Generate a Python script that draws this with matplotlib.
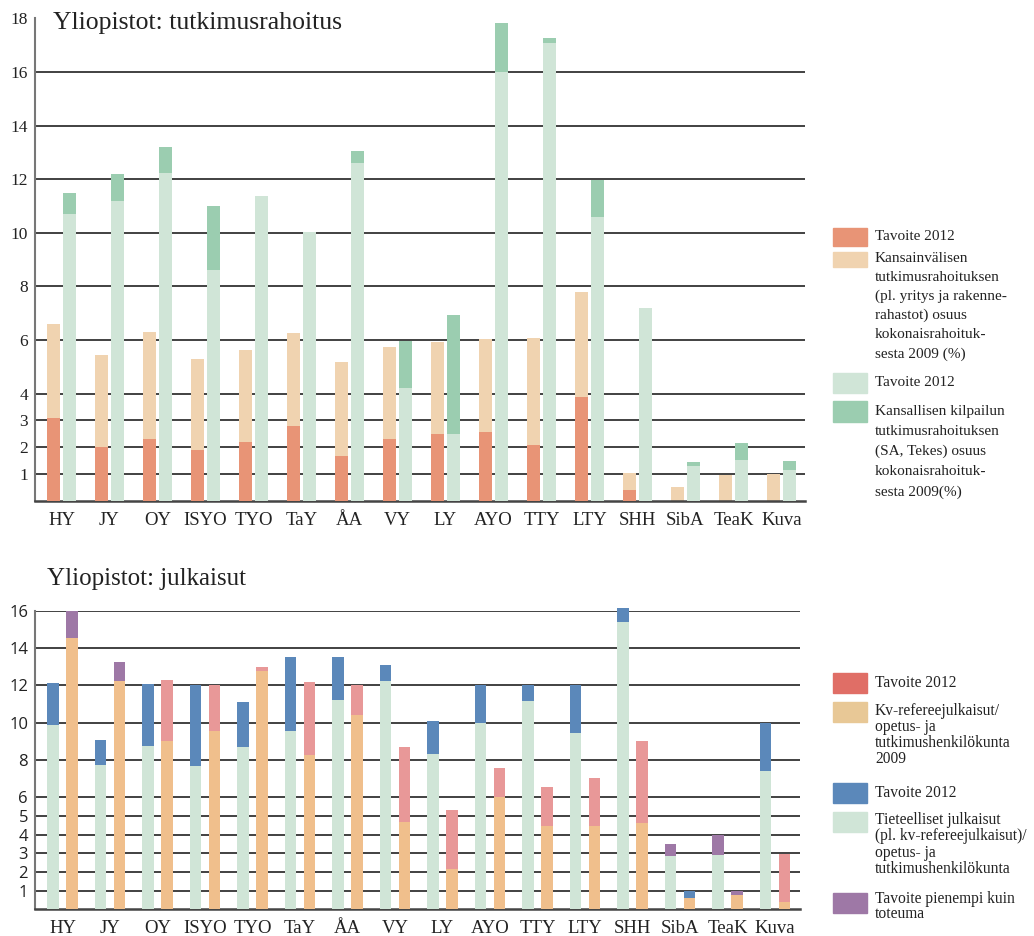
import numpy as np
import matplotlib
matplotlib.use("Agg")
import matplotlib.pyplot as plt
from matplotlib.patches import Rectangle

categories = ["HY", "JY", "OY", "ISYO", "TYO", "TaY", "ÅA", "VY", "LY", "AYO",
              "TTY", "LTY", "SHH", "SibA", "TeaK", "Kuva"]

# --- Top chart: research funding ---
kv_tavoite = [3.08, 2.0, 2.29, 1.89, 2.18, 2.79, 1.67, 2.29, 2.5, 2.57, 2.06, 3.87, 0.41, 0, 0, 0]
kv_osuus = [6.58, 5.42, 6.29, 5.29, 5.61, 6.26, 5.17, 5.75, 5.93, 6.04, 6.08, 7.77, 1.02, 0.51, 0.95, 1.0]
kans_tavoite = [10.7, 11.2, 12.21, 8.61, 11.38, 10.01, 12.61, 4.2, 2.5, 16.0, 17.09, 10.6, 7.2, 1.31, 1.53, 1.13]
kans_osuus = [11.49, 12.18, 13.2, 10.99, 0, 0, 13.05, 5.97, 6.94, 17.81, 17.28, 11.97, 0, 1.46, 2.14, 1.49]
top_yticks = [1, 2, 3, 4, 6, 8, 10, 12, 14, 16, 18]

# --- Bottom chart: publications ---
tiet_base = [9.9, 7.73, 8.77, 7.67, 8.72, 9.53, 11.21, 12.23, 8.34, 10.0, 11.16, 9.44, 15.38, 2.86, 2.93, 7.4]
tiet_top = [12.12, 9.08, 12.07, 12.0, 11.1, 13.54, 13.54, 13.07, 10.09, 12.0, 12.0, 12.0, 16.15, 3.52, 3.96, 10.0]
tiet_top_kind = ["b", "b", "b", "b", "b", "b", "b", "b", "b", "b", "b", "b", "b", "p", "p", "b"]
kvj_base = [14.56, 12.23, 9.04, 9.53, 12.77, 8.27, 10.41, 4.7, 2.16, 6.04, 4.47, 4.47, 4.64, 0.62, 0.76, 0.39]
kvj_top = [16.0, 13.23, 12.28, 12.0, 12.96, 12.18, 12.0, 8.67, 5.33, 7.58, 6.54, 7.06, 9.0, 0.98, 0.98, 2.95]
kvj_top_kind = ["p", "p", "r", "r", "r", "r", "r", "r", "r", "r", "r", "r", "r", "b", "p", "r"]
bot_yticks = [1, 2, 3, 4, 5, 6, 8, 10, 12, 14, 16]

C_ORANGE = "#E89476"
C_PEACH = "#F0D3B0"
C_LGREEN = "#D0E5D7"
C_DGREEN = "#9BCDB0"
C_BLUE = "#5B88BA"
C_PINK = "#E89898"
C_RED_LEG = "#E06E66"
C_KVORANGE = "#F0BF8C"
C_KVLEG = "#E8C896"
C_PURPLE = "#9E78A6"
kind_col = {"b": C_BLUE, "p": C_PURPLE, "r": C_PINK}

SERIF = ["Liberation Serif", "DejaVu Serif"]
SANS = ["Open Sans", "DejaVu Sans"]

W, H = 1034, 936
fig = plt.figure(figsize=(W / 100, H / 100), dpi=100)

def frac_axes(l, r, t, b):
    return fig.add_axes([l / W, 1 - b / H, (r - l) / W, (b - t) / H])

x = np.arange(len(categories))

# ---------------- TOP ----------------
ax1 = frac_axes(35, 805, 18.3, 500.7)
ax1.set_xlim(-0.552, 15.49)
ax1.set_ylim(0, 18)
for v in top_yticks[:-1]:
    ax1.axhline(v, color="#333333", lw=1.3, zorder=1)
bw = 0.27
off = 0.168
ax1.bar(x - off, kv_osuus, width=bw, color=C_PEACH, zorder=2)
ax1.bar(x - off, kv_tavoite, width=bw, color=C_ORANGE, zorder=3)
ax1.bar(x + off, kans_osuus, width=bw, color=C_DGREEN, zorder=2)
ax1.bar(x + off, kans_tavoite, width=bw, color=C_LGREEN, zorder=3)
ax1.set_yticks(top_yticks)
ax1.set_yticklabels([str(v) for v in top_yticks], family=SERIF, fontsize=12.5, color="#222222")
ax1.set_xticks(x)
ax1.set_xticklabels(categories, family=SERIF, fontsize=13.5, color="#222222")
ax1.tick_params(axis="both", length=0)
ax1.tick_params(axis="y", pad=5)
ax1.tick_params(axis="x", pad=8)
for s in ["top", "right"]:
    ax1.spines[s].set_visible(False)
ax1.spines["left"].set_color("#777777")
ax1.spines["left"].set_linewidth(1.5)
ax1.spines["bottom"].set_color("#444444")
ax1.spines["bottom"].set_linewidth(1.8)
fig.text(53 / W, 1 - 23 / H, "Yliopistot: tutkimusrahoitus", family=SERIF, fontsize=18.5,
         va="center", ha="left", color="#222222")

# ---------------- BOTTOM ----------------
ax2 = frac_axes(35, 800, 610.7, 909.3)
ax2.set_xlim(-0.579, 15.526)
ax2.set_ylim(0, 16)
for v in bot_yticks:
    ax2.axhline(v, color="#333333", lw=1.3, zorder=1, xmax=1.0)
bw2 = 0.25
off2 = 0.2
for i in range(len(categories)):
    ax2.bar(x[i] - off2, tiet_top[i], width=bw2, color=kind_col[tiet_top_kind[i]], zorder=2, clip_on=False)
    ax2.bar(x[i] - off2, tiet_base[i], width=bw2, color=C_LGREEN, zorder=3, clip_on=False)
    ax2.bar(x[i] + off2, kvj_top[i], width=bw2, color=kind_col[kvj_top_kind[i]], zorder=2, clip_on=False)
    ax2.bar(x[i] + off2, kvj_base[i], width=bw2, color=C_KVORANGE, zorder=3, clip_on=False)
ax2.set_yticks(bot_yticks)
ax2.set_yticklabels([str(v) for v in bot_yticks], family=SANS, fontsize=12, color="#222222")
ax2.set_xticks(x)
ax2.set_xticklabels(categories, family=SERIF, fontsize=13.5, color="#222222")
ax2.tick_params(axis="both", length=0)
ax2.tick_params(axis="y", pad=5)
ax2.tick_params(axis="x", pad=8)
for s in ["top", "right"]:
    ax2.spines[s].set_visible(False)
ax2.spines["left"].set_color("#777777")
ax2.spines["left"].set_linewidth(1.5)
ax2.spines["bottom"].set_color("#444444")
ax2.spines["bottom"].set_linewidth(1.8)
fig.text(47 / W, 1 - 579 / H, "Yliopistot: julkaisut", family=SERIF, fontsize=18,
         va="center", ha="left", color="#222222")

# ---------------- LEGENDS ----------------
def patch(y0, y1, color):
    fig.patches.append(Rectangle((833 / W, 1 - y1 / H), 34 / W, (y1 - y0) / H,
                                 transform=fig.transFigure, color=color, figure=fig))

def lines(y_first, texts, spacing, size=11):
    for k, t in enumerate(texts):
        fig.text(875 / W, 1 - (y_first + k * spacing) / H, t, family=SERIF, fontsize=size,
                 va="center", ha="left", color="#222222")

patch(228, 246, C_ORANGE)
lines(236, ["Tavoite 2012"], 19.5)
patch(252, 267, C_PEACH)
lines(258, ["Kansainvälisen", "tutkimusrahoituksen", "(pl. yritys ja rakenne-",
            "rahastot) osuus", "kokonaisrahoituk-", "sesta 2009 (%)"], 19.2)
patch(373, 393, C_LGREEN)
lines(382, ["Tavoite 2012"], 19.5)
patch(401, 422, C_DGREEN)
lines(411, ["Kansallisen kilpailun", "tutkimusrahoituksen", "(SA, Tekes) osuus",
            "kokonaisrahoituk-", "sesta 2009(%)"], 20.2)

patch(673, 693, C_RED_LEG)
lines(683, ["Tavoite 2012"], 16, 11.2)
patch(702, 722, C_KVLEG)
lines(711, ["Kv-refereejulkaisut/", "opetus- ja", "tutkimushenkilökunta", "2009"], 16, 11.2)
patch(783, 803, C_BLUE)
lines(793, ["Tavoite 2012"], 16, 11.2)
patch(812, 832, C_LGREEN)
lines(820, ["Tieteelliset julkaisut", "(pl. kv-refereejulkaisut)/", "opetus- ja",
            "tutkimushenkilökunta"], 16.3, 11.2)
patch(893, 913, C_PURPLE)
lines(899, ["Tavoite pienempi kuin", "toteuma"], 15.5, 11.2)

fig.savefig("out.png", dpi=100)
